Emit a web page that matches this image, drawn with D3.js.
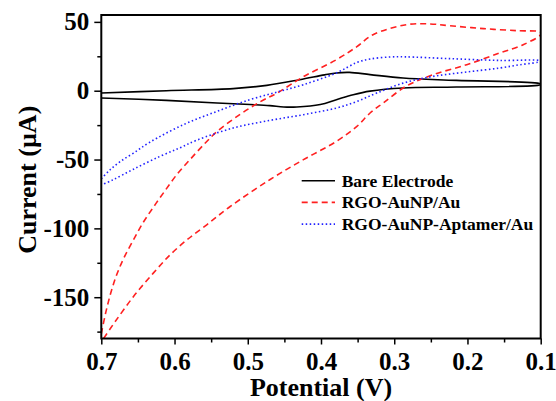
<!DOCTYPE html>
<html>
<head>
<meta charset="utf-8">
<script src="https://cdn.jsdelivr.net/npm/d3@7"></script>
<style>
  html, body { margin: 0; padding: 0; background: #fff; }
  svg { display: block; font-family: "Liberation Serif", "Times New Roman", serif; font-weight: bold; }
</style>
</head>
<body>
<svg id="chart" width="556" height="401"></svg>
<script>
// cyclic voltammograms: forward branch 0.7 -> 0.1 V, then reverse 0.1 -> 0.7 V
const bareE = [0.7, 0.611, 0.52, 0.474, 0.429, 0.395, 0.379, 0.361, 0.333, 0.288, 0.215, 0.1,
  0.1, 0.215, 0.288, 0.333, 0.356, 0.379, 0.401, 0.433, 0.451, 0.47, 0.497, 0.542, 0.611, 0.7];
const bareI = [-1.7, 0.0, 1.5, 3.9, 8.0, 11.5, 12.9, 13.3, 11.7, 9.2, 7.5, 5.0,
  4.4, 2.7, 2.0, -0.3, -2.9, -6.5, -10.0, -11.8, -11.8, -10.8, -10.0, -8.9, -7.0, -5.3];

const rgoE = [0.7, 0.694, 0.687, 0.679, 0.669, 0.656, 0.643, 0.629, 0.614, 0.597, 0.579, 0.558,
  0.542, 0.511, 0.483, 0.46, 0.424, 0.379, 0.351, 0.329, 0.283, 0.251, 0.224, 0.178, 0.133, 0.1,
  0.1, 0.124, 0.156, 0.201, 0.247, 0.283, 0.315, 0.333, 0.351, 0.379, 0.424, 0.47,
  0.524, 0.556, 0.583, 0.606, 0.629, 0.656, 0.681, 0.695, 0.702];
const rgoI = [-176.6, -161.3, -146.8, -133.7, -121.3, -108.3, -95.9, -84.7, -73.4, -61.0, -50.1, -38.0,
  -29.6, -17.4, -8.0, -1.7, 10.2, 22.5, 32.0, 40.7, 48.0, 48.5, 47.2, 45.1, 43.6, 42.5,
  40.7, 33.4, 27.4, 18.9, 11.6, 3.5, -8.9, -16.2, -25.9, -36.8, -50.1, -64.7,
  -84.1, -97.4, -108.3, -119.2, -132.5, -149.5, -167.7, -178.5, -184];

const aptE = [0.7, 0.688, 0.674, 0.656, 0.634, 0.588, 0.542, 0.497, 0.46, 0.424, 0.379, 0.351,
  0.333, 0.306, 0.285, 0.224, 0.156, 0.1,
  0.1, 0.128, 0.156, 0.201, 0.247, 0.288, 0.324, 0.351, 0.379, 0.424, 0.47,
  0.52, 0.57, 0.593, 0.62, 0.656, 0.684, 0.7];
const aptI = [-64.0, -57.4, -51.4, -45.3, -37.5, -24.7, -15.0, -6.5, -1.0, 4.4, 12.9, 20.5,
  23.0, 24.5, 24.6, 23.3, 22.0, 21.8,
  21.3, 18.9, 16.5, 13.6, 10.4, 5.5, -1.7, -7.8, -12.6, -17.4, -21.6,
  -27.1, -36.0, -41.6, -47.7, -57.0, -64.7, -68.5];

const seriesNames = ["Bare Electrode", "RGO-AuNP/Au", "RGO-AuNP-Aptamer/Au"];
const xMajor = [0.7, 0.6, 0.5, 0.4, 0.3, 0.2, 0.1];
const xMinor = [0.65, 0.55, 0.45, 0.35, 0.25, 0.15];
const yMajor = [50, 0, -50, -100, -150];
const yMinor = [25, -25, -75, -125, -175];

const box = { left: 101.3, right: 540.7, top: 15, bottom: 338.5 };

const x = d3.scaleLinear().domain([0.7, 0.1]).range([box.left, box.right]);
const y = d3.scaleLinear().domain([-180, 55]).range([box.bottom, box.top]);

const svg = d3.select("#chart");

svg.append("clipPath").attr("id", "plotClip")
  .append("rect")
  .attr("x", box.left).attr("y", box.top)
  .attr("width", box.right - box.left).attr("height", box.bottom - box.top);

const styles = [
  { color: "#000000", dash: null, width: 1.6 },
  { color: "#ff2020", dash: "6,4", width: 1.6 },
  { color: "#2020ff", dash: "1.5,2.5", width: 1.6 }
];

const seriesData = [
  d3.zip(bareE, bareI),
  d3.zip(rgoE, rgoI),
  d3.zip(aptE, aptI)
];

const line = d3.line()
  .x((d) => x(d[0]))
  .y((d) => y(d[1]))
  .curve(d3.curveCatmullRom.alpha(0.5));

const plot = svg.append("g").attr("clip-path", "url(#plotClip)");
seriesData.forEach((pts, i) => {
  plot.append("path")
    .datum(pts)
    .attr("fill", "none")
    .attr("stroke", styles[i].color)
    .attr("stroke-width", styles[i].width)
    .attr("stroke-dasharray", styles[i].dash)
    .attr("d", line);
});

// axes
const styleAxis = (g) => {
  g.select(".domain").remove();
  g.selectAll("line").attr("stroke", "#000").attr("stroke-width", 1.5);
  g.selectAll("text").attr("fill", "#000").attr("font-size", 25)
    .attr("font-family", "Liberation Serif, Times New Roman, serif").attr("font-weight", "bold");
};

svg.append("g")
  .attr("transform", `translate(0,${box.bottom})`)
  .call(d3.axisBottom(x).tickValues(xMajor).tickSize(6).tickPadding(8).tickFormat(d3.format(".1f")))
  .call(styleAxis);
svg.append("g")
  .attr("transform", `translate(0,${box.bottom})`)
  .call(d3.axisBottom(x).tickValues(xMinor).tickSize(4).tickFormat(""))
  .call(styleAxis);

svg.append("g")
  .attr("transform", `translate(${box.left},0)`)
  .call(d3.axisLeft(y).tickValues(yMajor).tickSize(7).tickPadding(5).tickFormat((d) => String(d)))
  .call(styleAxis);
svg.append("g")
  .attr("transform", `translate(${box.left},0)`)
  .call(d3.axisLeft(y).tickValues(yMinor).tickSize(4).tickFormat(""))
  .call(styleAxis);

// frame
svg.append("rect")
  .attr("x", box.left).attr("y", box.top)
  .attr("width", box.right - box.left).attr("height", box.bottom - box.top)
  .attr("fill", "none").attr("stroke", "#000").attr("stroke-width", 2);

// axis titles
svg.append("text")
  .attr("x", (box.left + box.right) / 2).attr("y", 396)
  .attr("text-anchor", "middle").attr("font-size", 26)
  .text("Potential (V)");

svg.append("text")
  .attr("transform", `translate(36,${(box.top + box.bottom) / 2 + 3}) rotate(-90)`)
  .attr("text-anchor", "middle").attr("font-size", 26)
  .text("Current (\u00b5A)");

// legend
const legend = svg.append("g");
seriesNames.forEach((name, i) => {
  const ly = 180.7 + i * 21.7;
  legend.append("line")
    .attr("x1", 301.7).attr("x2", 335)
    .attr("y1", ly).attr("y2", ly)
    .attr("stroke", styles[i].color)
    .attr("stroke-width", styles[i].width)
    .attr("stroke-dasharray", styles[i].dash);
  legend.append("text")
    .attr("x", 341.7).attr("y", ly + 6)
    .attr("font-size", 17.5)
    .text(name);
});
</script>
</body>
</html>
